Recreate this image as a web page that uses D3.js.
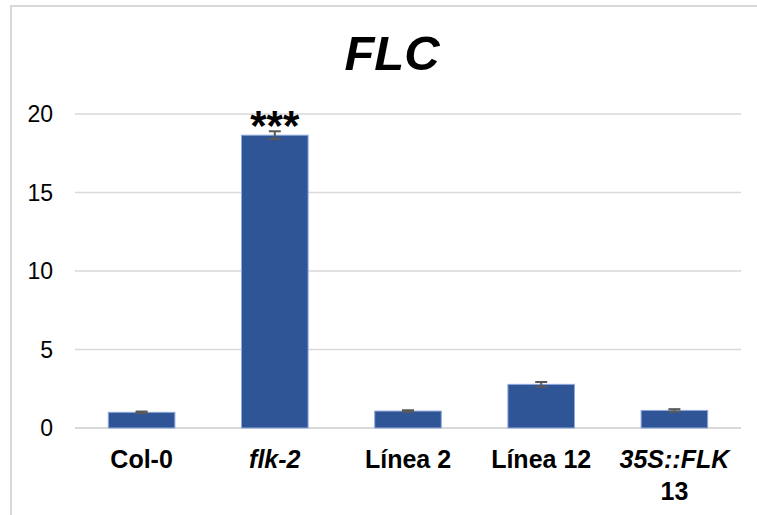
<!DOCTYPE html>
<html>
<head>
<meta charset="utf-8">
<script src="https://cdn.jsdelivr.net/npm/d3@7"></script>
<style>
  body { margin: 0; background: #fff; }
  text { font-family: "Liberation Sans", Arial, sans-serif; }
</style>
</head>
<body>
<div id="chart"></div>
<script>
// data
const categories = ["Col-0", "flk-2", "Línea 2", "Línea 12", "35S::FLK 13"];
const values = [1.0, 18.65, 1.08, 2.78, 1.12];
const errors = [0.05, 0.25, 0.05, 0.15, 0.08];
const italicCats = ["flk-2", "35S::FLK 13"];
const yTicks = [0, 5, 10, 15, 20];

const width = 757,
  height = 515;
const svg = d3
  .select("#chart")
  .append("svg")
  .attr("width", width)
  .attr("height", height);

// chart frame (left + top edges visible)
svg.append("path")
  .attr("d", "M11,515 V6 H757")
  .attr("fill", "none")
  .attr("stroke", "#d9d9d9")
  .attr("stroke-width", 2);

const x = d3.scaleBand().domain(categories).range([75, 741]).paddingInner(0.5).paddingOuter(0.25);
const y = d3.scaleLinear().domain([0, 20]).range([428, 114]);

// title
svg.append("text")
  .attr("x", 392)
  .attr("y", 70)
  .attr("text-anchor", "middle")
  .attr("font-size", 49)
  .attr("font-weight", "bold")
  .attr("font-style", "italic")
  .text("FLC");

// gridlines
svg.append("g")
  .selectAll("line")
  .data(yTicks)
  .join("line")
  .attr("x1", 75)
  .attr("x2", 741)
  .attr("y1", (d) => y(d))
  .attr("y2", (d) => y(d))
  .attr("stroke", "#d9d9d9")
  .attr("stroke-width", (d) => (d === 0 ? 2 : 1.3));

// y tick labels
svg.append("g")
  .selectAll("text")
  .data(yTicks)
  .join("text")
  .attr("x", 53)
  .attr("y", (d) => y(d))
  .attr("dy", "0.36em")
  .attr("text-anchor", "end")
  .attr("font-size", 23)
  .attr("fill", "#000")
  .text((d) => d);

// bars
svg.append("g")
  .selectAll("rect")
  .data(categories)
  .join("rect")
  .attr("x", (d) => x(d))
  .attr("width", x.bandwidth())
  .attr("y", (d, i) => y(values[i]))
  .attr("height", (d, i) => y(0) - y(values[i]))
  .attr("fill", "#2f5597")
  .attr("stroke", "#8faadc")
  .attr("stroke-width", 1);

// error bars
const eb = svg.append("g").attr("stroke", "#595959").attr("stroke-width", 2);
categories.forEach((c, i) => {
  const cx = x(c) + x.bandwidth() / 2;
  const lo = y(values[i] - errors[i]),
    hi = y(values[i] + errors[i]);
  eb.append("line").attr("x1", cx).attr("x2", cx).attr("y1", lo).attr("y2", hi);
  eb.append("line").attr("x1", cx - 6).attr("x2", cx + 6).attr("y1", lo).attr("y2", lo);
  eb.append("line").attr("x1", cx - 6).attr("x2", cx + 6).attr("y1", hi).attr("y2", hi);
});

// significance marker
svg.append("text")
  .attr("x", x("flk-2") + x.bandwidth() / 2)
  .attr("y", 140)
  .attr("text-anchor", "middle")
  .attr("font-size", 42)
  .attr("font-weight", "bold")
  .text("***");

// x labels
const xl = svg.append("g");
categories.forEach((c) => {
  const cx = x(c) + x.bandwidth() / 2;
  const t = xl.append("text")
    .attr("x", cx)
    .attr("y", 468)
    .attr("text-anchor", "middle")
    .attr("font-size", 25)
    .attr("font-weight", "bold");
  if (c === "35S::FLK 13") {
    t.append("tspan").attr("x", cx).attr("font-style", "italic").text("35S::FLK");
    t.append("tspan").attr("x", cx).attr("dy", 32).text("13");
  } else {
    t.attr("font-style", italicCats.includes(c) ? "italic" : "normal").text(c);
  }
});
</script>
</body>
</html>
